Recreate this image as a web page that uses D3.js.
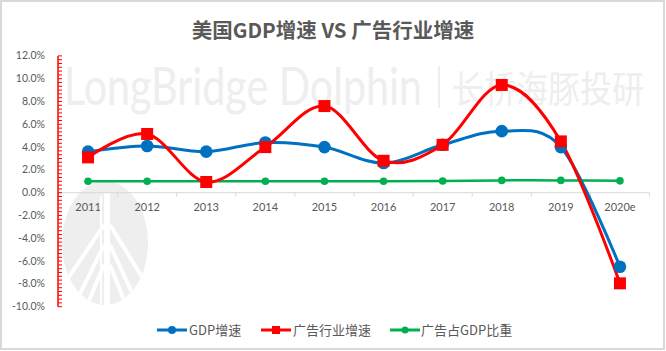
<!DOCTYPE html>
<html><head><meta charset="utf-8">
<script src="https://cdn.jsdelivr.net/npm/d3@7"></script>
<style>
html,body{margin:0;padding:0;background:#fff;}
svg{display:block;}
</style></head>
<body>
<svg id="c" width="666" height="351"></svg>
<script>
const categories = ["2011","2012","2013","2014","2015","2016","2017","2018","2019","2020e"];
const gdpGrowth = [3.6, 4.1, 3.6, 4.4, 4.0, 2.6, 4.2, 5.4, 4.0, -6.5];
const adGrowth = [3.1, 5.15, 0.94, 4.0, 7.6, 2.8, 4.2, 9.45, 4.5, -7.95];
const adShare = [1.0, 1.0, 1.0, 1.0, 1.0, 1.0, 1.02, 1.08, 1.08, 1.04];
const yTicks = [-10, -8, -6, -4, -2, 0, 2, 4, 6, 8, 10, 12];
const seriesNames = ["GDP增速", "广告行业增速", "广告占GDP比重"];
const title = "美国GDP增速 VS 广告行业增速";

const svg = d3.select("#c");
const textColor = "#595959";
const colors = ["#0070C0", "#FF0000", "#00B050"];

// border
svg.append("rect").attr("x",1).attr("y",1).attr("width",663).attr("height",348)
  .attr("fill","#fff").attr("stroke","#d9d9d9").attr("stroke-width",2);

const x = d3.scaleBand().domain(categories).range([58.5, 649.5]);
const y = d3.scaleLinear().domain([-10, 12]).range([306.7, 55.9]);
const cx = d => x(d) + x.bandwidth()/2;

// watermark (scaled horizontally to fit its box)
const wmColor = "#eeeeee";
function fitText(txt, x0, yb, w, size, family) {
  const g = svg.append("g");
  const t = g.append("text").attr("x",0).attr("y",0).text(txt)
    .attr("font-family",family).attr("font-size",size).attr("fill",wmColor);
  const nat = t.node().getComputedTextLength() || w;
  g.attr("transform",`translate(${x0},${yb}) scale(${w/nat},1)`);
}
fitText("LongBridge Dolphin", 64, 105, 358, 52, "Lato, 'Open Sans', sans-serif");
svg.append("rect").attr("x",438).attr("y",66).attr("width",2).attr("height",42).attr("fill",wmColor);
fitText("长桥海豚投研", 452, 103, 192, 37, "'Noto Sans CJK SC', sans-serif");

// logo
const lg = svg.append("g");
lg.append("ellipse").attr("cx",105).attr("cy",243).attr("rx",43).attr("ry",62).attr("fill","#eeeeee");
const cp = lg.append("clipPath").attr("id","lc");
cp.append("ellipse").attr("cx",105).attr("cy",243).attr("rx",43).attr("ry",62);
const lines = lg.append("g").attr("clip-path","url(#lc)").attr("stroke","#fff").attr("stroke-width",4).attr("fill","none");
lines.append("line").attr("x1",107).attr("y1",193).attr("x2",107).attr("y2",310).attr("stroke-width",6);
lines.append("line").attr("x1",101).attr("y1",196).attr("x2",101).attr("y2",310).attr("stroke-width",2);
[[104,225,60,290],[104,245,72,310],[104,265,85,310],[110,225,150,290],[110,245,140,310],[110,265,128,310]].forEach(l=>{
  lines.append("line").attr("x1",l[0]).attr("y1",l[1]).attr("x2",l[2]).attr("y2",l[3]);
});

// title
svg.append("text").attr("x",333).attr("y",38).attr("text-anchor","middle")
  .attr("font-family","'Noto Sans CJK SC', sans-serif").attr("font-weight",700)
  .attr("font-size",20.5).attr("fill",textColor).text(title);

// x axis line and ticks
const y0 = y(0);
svg.append("line").attr("x1",58.5).attr("x2",649.5).attr("y1",y0).attr("y2",y0)
  .attr("stroke","#d9d9d9").attr("stroke-width",1);
const bounds = categories.map(c => x(c)).concat([x.range()[1]]);
svg.selectAll(".xt").data(bounds).enter().append("line")
  .attr("x1",d=>d).attr("x2",d=>d).attr("y1",y0).attr("y2",y0+4)
  .attr("stroke","#d9d9d9");
svg.selectAll(".xl").data(categories).enter().append("text")
  .attr("x",d=>cx(d)).attr("y",y0+18).attr("text-anchor","middle")
  .attr("font-family","Lato, sans-serif").attr("font-size",11).attr("fill",textColor)
  .text(d=>d);

// y axis (red) with minor ticks
const ax = 58;
svg.append("line").attr("x1",ax).attr("x2",ax).attr("y1",y(12)).attr("y2",y(-10))
  .attr("stroke","#FF0000").attr("stroke-width",1.5);
const minor = d3.range(0, 67).map(i => -10 + i/3);
svg.selectAll(".ym").data(minor).enter().append("line")
  .attr("x1",ax).attr("x2",ax+4).attr("y1",d=>y(d)).attr("y2",d=>y(d))
  .attr("stroke","#FF0000").attr("stroke-width",1);
svg.selectAll(".yl").data(yTicks).enter().append("text")
  .attr("x",45).attr("y",d=>y(d)+3.5).attr("text-anchor","end")
  .attr("font-family","Lato, sans-serif").attr("font-size",10.5).attr("fill",textColor)
  .text(d=>d.toFixed(1)+"%");

// series
const line = d3.line().x((d,i)=>cx(categories[i])).y(d=>y(d)).curve(d3.curveCatmullRom.alpha(0));
const data = [gdpGrowth, adGrowth, adShare];
const widths = [3, 3, 2.5];
[2,0,1].forEach(s=>{
  svg.append("path").attr("d",line(data[s])).attr("fill","none")
    .attr("stroke",colors[s]).attr("stroke-width",widths[s]);
});
// markers
svg.selectAll(".mg").data(adShare).enter().append("circle")
  .attr("cx",(d,i)=>cx(categories[i])).attr("cy",d=>y(d)).attr("r",3.8).attr("fill",colors[2]);
svg.selectAll(".mb").data(gdpGrowth).enter().append("circle")
  .attr("cx",(d,i)=>cx(categories[i])).attr("cy",d=>y(d)).attr("r",6.3).attr("fill",colors[0]);
svg.selectAll(".mr").data(adGrowth).enter().append("rect")
  .attr("x",(d,i)=>cx(categories[i])-6).attr("y",d=>y(d)-6).attr("width",12).attr("height",12).attr("fill",colors[1]);

// legend
const legY = 330;
const leg = [{x:157, tx:189}, {x:261, tx:293}, {x:390, tx:421}];
leg.forEach((L,s)=>{
  const g = svg.append("g");
  g.append("line").attr("x1",L.x).attr("x2",L.x+30).attr("y1",legY).attr("y2",legY)
    .attr("stroke",colors[s]).attr("stroke-width",3);
  if (s===1) g.append("rect").attr("x",L.x+11).attr("y",legY-4).attr("width",8).attr("height",8).attr("fill",colors[s]);
  else g.append("circle").attr("cx",L.x+15).attr("cy",legY).attr("r",s===0?4:3.5).attr("fill",colors[s]);
  g.append("text").attr("x",L.tx).attr("y",legY+4.5)
    .attr("font-family","'Noto Sans CJK SC', sans-serif").attr("font-size",13).attr("fill",textColor)
    .text(seriesNames[s]);
});
</script>
</body></html>
